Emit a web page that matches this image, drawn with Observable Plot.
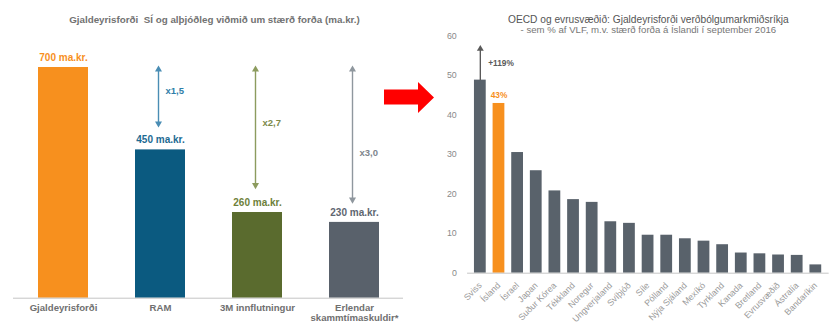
<!DOCTYPE html>
<html><head><meta charset="utf-8">
<script src="https://cdn.jsdelivr.net/npm/d3@7"></script>
<script src="https://cdn.jsdelivr.net/npm/@observablehq/plot@0.6"></script>
<style>
html,body{margin:0;padding:0;background:#fff;overflow:hidden;width:832px;height:324px}
#wrap{position:relative;width:832px;height:324px;overflow:hidden}
#left{position:absolute;left:0;top:0}
#right{position:absolute;left:420px;top:0}
#redarrow{position:absolute;left:0;top:0}
svg{overflow:visible}
</style></head><body>
<div id="wrap"><div id="left"></div><div id="right"></div>
<svg id="redarrow" width="832" height="324"><polygon points="384,89.5 418,89.5 418,82 434,97.5 418,113 418,104.5 384,104.5" fill="#ff0000"/></svg>
</div>
<script>
// ---- Left panel data ----
const leftTitle = "Gjaldeyrisforði  SÍ og alþjóðleg viðmið um stærð forða (ma.kr.)";
const leftCategories = ["Gjaldeyrisforði", "RAM", "3M innflutningur", "Erlendar\nskammtímaskuldir*"];
const leftValues = [700, 450, 260, 230];
const leftValueLabels = ["700 ma.kr.", "450 ma.kr.", "260 ma.kr.", "230 ma.kr."];
const multiplierCategories = ["RAM", "3M innflutningur", "Erlendar\nskammtímaskuldir*"];
const multiplierLabels = ["x1,5", "x2,7", "x3,0"];
const arrowTop = [700, 700, 700];
const arrowBottom = [524, 337, 293];
const multiplierLabelValue = [630, 533, 440];

// ---- Right panel data ----
const rightTitle = "OECD og evrusvæðið: Gjaldeyrisforði verðbólgumarkmiðsríkja";
const rightSubtitle = "- sem % af VLF, m.v. stærð forða á Íslandi í september 2016";
const countries = ["Sviss", "Ísland", "Ísrael", "Japan", "Suður Kórea", "Tékkland", "Noregur", "Ungverjaland", "Svíþjóð", "Síle", "Pólland", "Nýja Sjáland", "Mexíkó", "Tyrkland", "Kanada", "Bretland", "Evrusvæðið", "Ástralía", "Bandaríkin"];
const countryValues = [48.8, 42.9, 30.5, 25.9, 20.8, 18.6, 17.9, 13.0, 12.6, 9.6, 9.6, 8.7, 8.1, 7.2, 5.1, 4.9, 4.6, 4.5, 2.1];
const yTicks = [0, 10, 20, 30, 40, 50, 60];
const swissArrowTop = 57.2;
const swissLabel = "+119%";
const swissLabelValue = 53;
const icelandLabel = "43%";

// ---- Styles ----
const font = "'Liberation Sans', Arial, sans-serif";
const leftBarColors = ["#F7901E", "#0B5A80", "#5A6B2E", "#59616B"];
const leftLabelColors = ["#F7901E", "#1D6A92", "#6E7F3A", "#5E6670"];
const arrowColors = ["#4A8DB4", "#8C9B5E", "#8F979E"];
const multColors = ["#2F7EA8", "#7C8A4A", "#7E868D"];
const orange = "#F7901E";
const grey = "#59626B";

const leftData = leftCategories.map((c, i) => ({cat: c, value: leftValues[i], label: leftValueLabels[i], fill: leftBarColors[i], tfill: leftLabelColors[i]}));
const arrowData = multiplierCategories.map((c, i) => ({cat: c, top: arrowTop[i], bottom: arrowBottom[i], label: multiplierLabels[i], ly: multiplierLabelValue[i], stroke: arrowColors[i], tfill: multColors[i]}));

const left = Plot.plot({
  width: 420, height: 324,
  marginLeft: 13, marginRight: 17, marginTop: 67, marginBottom: 26.3,
  style: {fontFamily: font, background: "transparent", overflow: "visible"},
  x: {domain: leftCategories, paddingInner: 0.487, paddingOuter: 0.2435, axis: null},
  y: {domain: [0, 700], axis: null},
  color: {type: "identity"},
  marks: [
    Plot.barY(leftData, {x: "cat", y: "value", fill: "fill"}),
    Plot.ruleY([0], {stroke: "#c4c4c4", strokeWidth: 1}),
    Plot.axisX({tickSize: 0, tickPadding: 6, fontSize: 9.6, lineHeight: 1.0, fontWeight: "bold", color: "#707070", label: null}),
    Plot.text(leftData, {x: "cat", y: "value", text: "label", dy: -10, fill: "tfill", fontWeight: "bold", fontSize: 10}),
    Plot.link(arrowData, {x1: "cat", x2: "cat", y1: "top", y2: "bottom", stroke: "stroke", strokeWidth: 1.4, dx: -2}),
    Plot.dot(arrowData, {x: "cat", y: "top", symbol: "triangle", r: 2.6, fill: "stroke", dx: -2, dy: 2}),
    Plot.dot(arrowData, {x: "cat", y: "bottom", symbol: "triangle", r: 2.6, fill: "stroke", rotate: 180, dx: -2, dy: -2}),
    Plot.text(arrowData, {x: "cat", y: "ly", text: "label", textAnchor: "start", dx: 5, fill: "tfill", fontWeight: "bold", fontSize: 9.5}),
    Plot.text([leftTitle], {frameAnchor: "top", text: d => d, dx: 6, dy: -51, fontSize: 9.8, fontWeight: "bold", fill: "#727272"})
  ]
});
document.getElementById("left").appendChild(left);

const rightData = countries.map((c, i) => ({country: c, value: countryValues[i], fill: c === "Ísland" ? orange : grey}));
const right = Plot.plot({
  width: 420, height: 324,
  marginLeft: 48, marginRight: 3.4, marginTop: 36, marginBottom: 46,
  style: {fontFamily: font, background: "transparent", overflow: "visible"},
  x: {domain: countries, paddingInner: 0.38, paddingOuter: 0.19, axis: null},
  y: {domain: [0, 60], axis: null},
  color: {type: "identity"},
  marks: [
    Plot.barY(rightData, {x: "country", y: "value", fill: "fill"}),
    Plot.ruleY([0], {stroke: "#c4c4c4", strokeWidth: 1}),
    Plot.axisY({ticks: yTicks, tickSize: 0, tickPadding: 11, fontSize: 9, color: "#8a8a8a", label: null}),
    Plot.axisX({tickSize: 0, tickPadding: 11, tickRotate: -45, fontSize: 9, color: "#9a9a9a", label: null}),
    Plot.link([countries[0]], {x1: d => d, x2: d => d, y1: () => countryValues[0], y2: () => swissArrowTop, stroke: "#5a5a5a", strokeWidth: 1.4}),
    Plot.dot([countries[0]], {x: d => d, y: () => swissArrowTop, symbol: "triangle", r: 2.6, fill: "#5a5a5a", dy: 2}),
    Plot.text([countries[0]], {x: d => d, y: () => swissLabelValue, text: () => swissLabel, textAnchor: "start", dx: 8, fontSize: 8.5, fontWeight: "bold", fill: "#5a5a5a"}),
    Plot.text([countries[1]], {x: d => d, y: () => countryValues[1], text: () => icelandLabel, dy: -8, fontSize: 8.5, fontWeight: "bold", fill: orange}),
    Plot.text([rightTitle], {frameAnchor: "top", text: d => d, dy: -20, fontSize: 10.4, fill: "#555"}),
    Plot.text([rightSubtitle], {frameAnchor: "top", text: d => d, dy: -10, fontSize: 9.8, fill: "#777"})
  ]
});
document.getElementById("right").appendChild(right);
</script>
</body></html>
